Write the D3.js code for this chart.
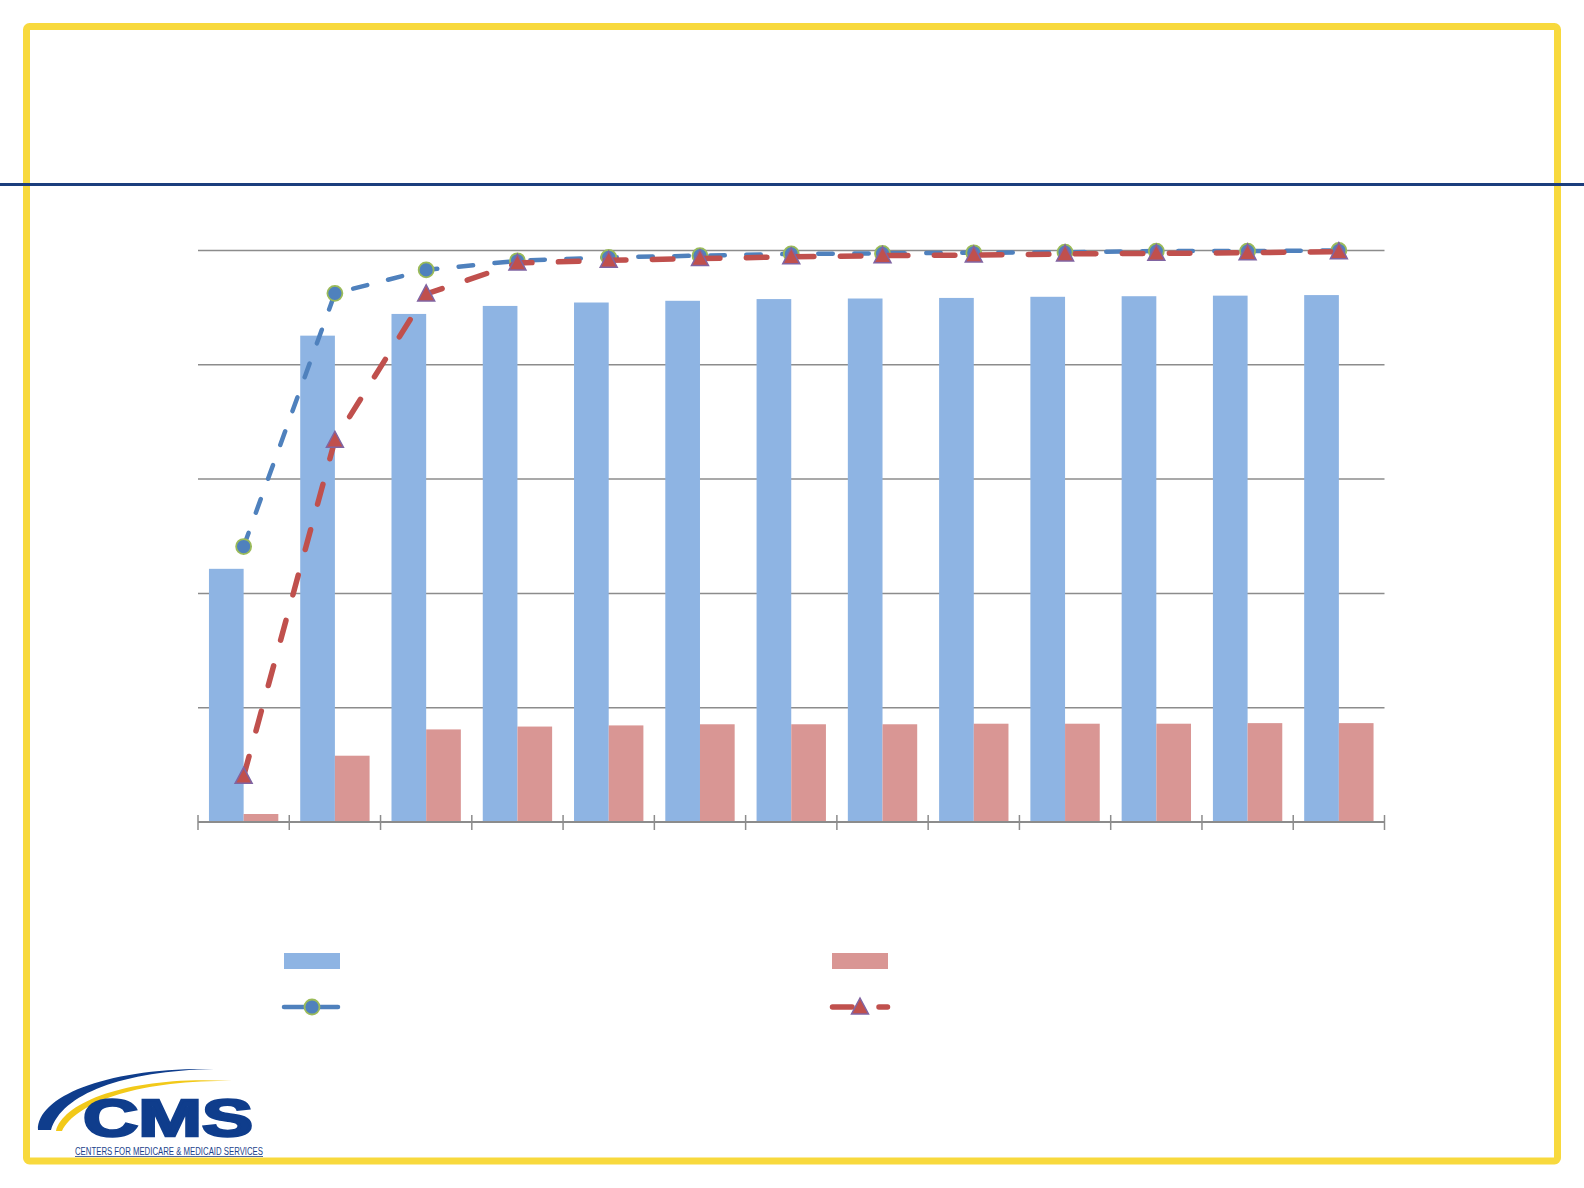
<!DOCTYPE html>
<html>
<head>
<meta charset="utf-8">
<script src="https://cdn.jsdelivr.net/npm/d3@7"></script>
<style>
  html, body { margin: 0; padding: 0; background: #ffffff; }
  svg { display: block; }
</style>
</head>
<body>
<svg id="chart" width="1584" height="1188"></svg>
<script>
// ---- Data (the chart carries no text labels) ----
const categories = ["1", "2", "3", "4", "5", "6", "7", "8", "9", "10", "11", "12", "13"];
const blueBars   = [44.3, 85.1, 88.9, 90.3, 90.9, 91.2, 91.5, 91.6, 91.7, 91.9, 92.0, 92.1, 92.2];
const redBars    = [1.4, 11.6, 16.2, 16.7, 16.9, 17.1, 17.1, 17.1, 17.2, 17.2, 17.2, 17.3, 17.3];
const blueLine   = [48.2, 92.5, 96.6, 98.2, 98.8, 99.1, 99.4, 99.5, 99.6, 99.7, 99.9, 99.9, 100];
const redLine    = [8.0, 66.8, 92.4, 97.8, 98.3, 98.6, 98.9, 99.1, 99.2, 99.4, 99.5, 99.6, 99.8];
const yTicks     = [0, 20, 40, 60, 80, 100];

const svg = d3.select("#chart");

// ---- Slide frame ----
svg.append("rect")
  .attr("x", 26.5).attr("y", 26.5)
  .attr("width", 1557.5 - 26.5).attr("height", 1161 - 26.5)
  .attr("rx", 3).attr("ry", 3)
  .attr("fill", "none").attr("stroke", "#F8D93D").attr("stroke-width", 7);

svg.append("rect")
  .attr("x", 0).attr("y", 183).attr("width", 1584).attr("height", 3)
  .attr("fill", "#1B3E7D");

// ---- Scales ----
const x0 = d3.scaleBand().domain(categories).range([198, 1384.5])
  .paddingInner(0.24).paddingOuter(0.12);
const x1 = d3.scaleBand().domain(["blue", "red"]).range([0, x0.bandwidth()]);
const y = d3.scaleLinear().domain([0, 100]).range([822, 250.5]);
const cx = c => x0(c) + x0.bandwidth() / 2;

// ---- Gridlines ----
svg.append("g").selectAll("line")
  .data(yTicks.filter(t => t > 0))
  .join("line")
  .attr("x1", 198).attr("x2", 1384.5)
  .attr("y1", d => y(d)).attr("y2", d => y(d))
  .attr("stroke", "#8C8C8C").attr("stroke-width", 1.5);

// ---- Bars ----
const barG = svg.append("g");
barG.selectAll("rect.b")
  .data(categories)
  .join("rect").attr("class", "b")
  .attr("x", c => x0(c) + x1("blue"))
  .attr("width", x1.bandwidth())
  .attr("y", (c, i) => y(blueBars[i]))
  .attr("height", (c, i) => y(0) - y(blueBars[i]))
  .attr("fill", "#8EB4E3");
barG.selectAll("rect.r")
  .data(categories)
  .join("rect").attr("class", "r")
  .attr("x", c => x0(c) + x1("red"))
  .attr("width", x1.bandwidth())
  .attr("y", (c, i) => y(redBars[i]))
  .attr("height", (c, i) => y(0) - y(redBars[i]))
  .attr("fill", "#D99694");

// ---- X axis (no labels, cross ticks at category boundaries) ----
const axisG = svg.append("g");
axisG.append("line")
  .attr("x1", 198).attr("x2", 1384.5).attr("y1", y(0)).attr("y2", y(0))
  .attr("stroke", "#8C8C8C").attr("stroke-width", 2);
const boundaries = categories.map(c => x0(c) - x0.step() * x0.paddingInner() / 2)
  .concat([1384.5]);
axisG.selectAll("line.tick")
  .data(boundaries)
  .join("line").attr("class", "tick")
  .attr("x1", d => d).attr("x2", d => d)
  .attr("y1", y(0) - 7).attr("y2", y(0) + 8)
  .attr("stroke", "#8C8C8C").attr("stroke-width", 1.5);

// ---- Lines ----
const triPath = "M0,-9L8.5,7L-8.5,7Z";
function drawLine(values, color, width, dash) {
  const g = svg.append("g");
  g.append("path")
    .datum(values)
    .attr("d", d3.line().x((v, i) => cx(categories[i])).y(v => y(v)))
    .attr("fill", "none").attr("stroke", color).attr("stroke-width", width)
    .attr("stroke-linecap", "round").attr("stroke-dasharray", dash);
  return g;
}
const gBlue = drawLine(blueLine, "#4F81BD", 4.5, "14.5,21.5");
gBlue.selectAll("circle")
  .data(blueLine)
  .join("circle")
  .attr("cx", (v, i) => cx(categories[i])).attr("cy", v => y(v))
  .attr("r", 7.5)
  .attr("fill", "#4F81BD").attr("stroke", "#9BBB59").attr("stroke-width", 1.8);

const gRed = drawLine(redLine, "#C0504D", 5.5, "20.5,26.5");
gRed.selectAll("path.m")
  .data(redLine)
  .join("path").attr("class", "m")
  .attr("d", triPath)
  .attr("transform", (v, i) => `translate(${cx(categories[i])},${y(v)})`)
  .attr("fill", "#C0504D").attr("stroke", "#8064A2").attr("stroke-width", 1.5);

// ---- Legend (symbols only, as in the reference) ----
const lg = svg.append("g");
lg.append("rect").attr("x", 284).attr("y", 953).attr("width", 56).attr("height", 16).attr("fill", "#8EB4E3");
lg.append("rect").attr("x", 832).attr("y", 953).attr("width", 56).attr("height", 16).attr("fill", "#D99694");
lg.append("line").attr("x1", 284).attr("x2", 338).attr("y1", 1007).attr("y2", 1007)
  .attr("stroke", "#4F81BD").attr("stroke-width", 4.5).attr("stroke-linecap", "round");
lg.append("circle").attr("cx", 312).attr("cy", 1007).attr("r", 7.5)
  .attr("fill", "#4F81BD").attr("stroke", "#9BBB59").attr("stroke-width", 1.8);
lg.append("line").attr("x1", 832.5).attr("x2", 887.5).attr("y1", 1007).attr("y2", 1007)
  .attr("stroke", "#C0504D").attr("stroke-width", 5.5).attr("stroke-linecap", "round")
  .attr("stroke-dasharray", "19.5,27");
lg.append("path").attr("d", triPath).attr("transform", "translate(860,1007)")
  .attr("fill", "#C0504D").attr("stroke", "#8064A2").attr("stroke-width", 1.5);

// ---- CMS logo ----
const logo = svg.append("g");
logo.append("path")
  .attr("d", "M38,1130 C37,1096 108,1067 214,1069 C122,1071 62,1094 51,1130 Z")
  .attr("fill", "#0F3D8C");
logo.append("path")
  .attr("d", "M56,1131 C63,1101 132,1075 232,1081 C136,1080 76,1103 62,1131 Z")
  .attr("fill", "#F2C919");
logo.append("text")
  .attr("x", 83).attr("y", 1136)
  .attr("font-family", "Liberation Sans, Arial, sans-serif")
  .attr("font-weight", "bold").attr("font-size", 52)
  .attr("textLength", 170).attr("lengthAdjust", "spacingAndGlyphs")
  .attr("fill", "#0F3D8C").attr("stroke", "#0F3D8C").attr("stroke-width", 2.5)
  .text("CMS");
logo.append("text")
  .attr("x", 75).attr("y", 1155)
  .attr("font-family", "Liberation Sans Narrow, Liberation Sans, Arial, sans-serif")
  .attr("font-size", 10)
  .attr("textLength", 188).attr("lengthAdjust", "spacingAndGlyphs")
  .attr("fill", "#1B3F8B")
  .text("CENTERS FOR MEDICARE & MEDICAID SERVICES");
logo.append("line").attr("x1", 75).attr("x2", 263).attr("y1", 1156.5).attr("y2", 1156.5)
  .attr("stroke", "#1B3F8B").attr("stroke-width", 0.8);
</script>
</body>
</html>
